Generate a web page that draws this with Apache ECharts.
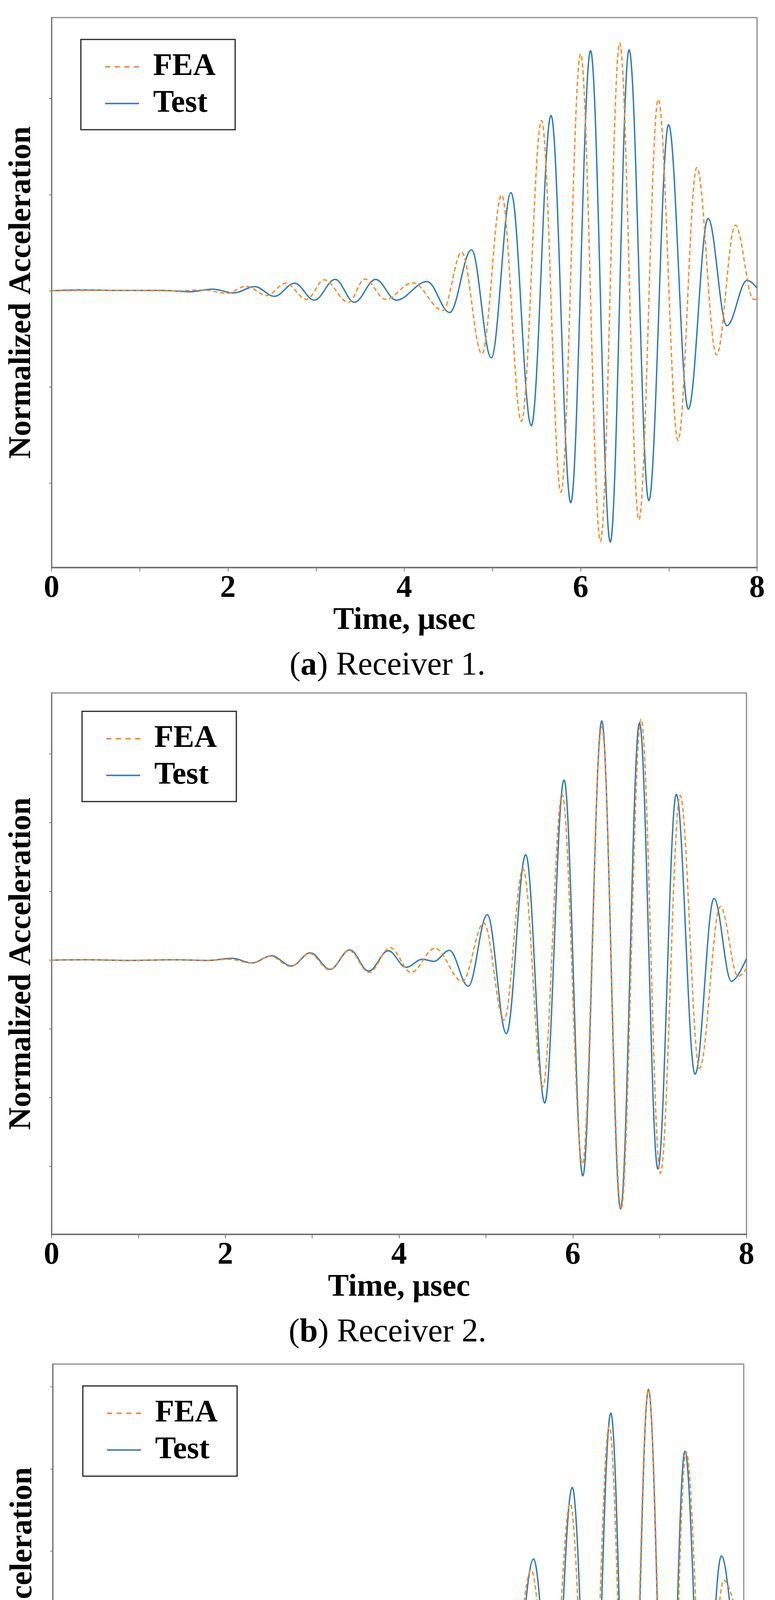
<!DOCTYPE html>
<html>
<head>
<meta charset="utf-8">
<script src="https://cdn.jsdelivr.net/npm/echarts@6/dist/echarts.min.js"></script>
<style>
html,body{margin:0;padding:0;background:#ffffff;}
#chart{width:1984px;height:5223px;}
</style>
</head>
<body>
<div id="chart"></div>
<script>
// ---------------- data (time in µsec, normalized acceleration in tick units) ----------------
const timeTicks = [0, 1, 2, 3, 4, 5, 6, 7, 8];
const timeLabels = ['0', '', '2', '', '4', '', '6', '', '8'];
const seriesNames = ['FEA', 'Test'];
const panelLetters = ['a', 'b', 'c'];
const panelCaptions = ['Receiver 1.', 'Receiver 2.', 'Receiver 3.'];
const xAxisTitle = 'Time, μsec';
const yAxisTitle = 'Normalized Acceleration';

const r1YTicks = [-2, -1, 0, 1, 2];
const r2YTicks = [-3, -2, -1, 0, 1, 2, 3];
const r3YTicks = [-3, -2, -1, 0, 1, 2, 3];

// Receiver 1
const r1Test = [[0,0],[0.31,0.009],[0.82,0.004],[1.27,0.004],[1.57,-0.009],[1.826,0.018],[2.067,-0.022],[2.303,0.044],[2.527,-0.057],[2.756,0.079],[2.980,-0.097],[3.216,0.119],[3.434,-0.119],[3.675,0.119],[3.910,-0.097],[4.258,0.097],[4.515,-0.225],[4.762,0.427],[4.986,-0.696],[5.210,1.022],[5.440,-1.401],[5.664,1.824],[5.888,-2.203],[6.112,2.498],[6.336,-2.612],[6.549,2.507],[6.773,-2.181],[6.997,1.727],[7.221,-1.229],[7.445,0.753],[7.658,-0.362],[7.888,0.110],[8.0,0.03]];
const r1FEA = [[0,0],[0.3,0.004],[0.9,0.004],[1.4,0.0],[1.714,0.009],[1.994,-0.026],[2.202,0.048],[2.443,-0.048],[2.655,0.079],[2.891,-0.088],[3.092,0.114],[3.367,-0.119],[3.552,0.123],[3.787,-0.088],[4.095,0.084],[4.437,-0.203],[4.650,0.401],[4.880,-0.656],[5.104,0.996],[5.328,-1.357],[5.557,1.771],[5.776,-2.093],[6.0,2.463],[6.224,-2.604],[6.443,2.577],[6.661,-2.379],[6.880,1.991],[7.104,-1.555],[7.317,1.282],[7.541,-0.665],[7.754,0.683],[7.961,-0.088],[8.0,-0.09]];

// Receiver 2
const r2Test = [[0,0],[0.4,0.005],[0.9,-0.005],[1.4,0.005],[1.8,-0.005],[2.081,0.025],[2.308,-0.043],[2.530,0.062],[2.763,-0.086],[2.979,0.105],[3.206,-0.135],[3.434,0.148],[3.650,-0.160],[3.877,0.135],[4.082,-0.105],[4.269,0.012],[4.400,-0.018],[4.580,0.14],[4.797,-0.380],[5.016,0.660],[5.236,-1.07],[5.459,1.533],[5.677,-2.08],[5.900,2.62],[6.116,-3.14],[6.334,3.48],[6.550,-3.62],[6.768,3.45],[6.980,-3.04],[7.192,2.41],[7.408,-1.66],[7.626,0.897],[7.826,-0.309],[8.0,0.02]];
const r2FEA = [[0,0],[0.4,0.005],[0.9,-0.005],[1.4,0.005],[1.8,-0.005],[2.052,0.012],[2.297,-0.043],[2.518,0.055],[2.752,-0.092],[2.968,0.099],[3.201,-0.142],[3.422,0.142],[3.656,-0.179],[3.900,0.179],[4.139,-0.179],[4.412,0.172],[4.730,-0.31],[4.976,0.54],[5.209,-0.873],[5.428,1.325],[5.655,-1.842],[5.878,2.41],[6.111,-2.965],[6.334,3.39],[6.557,-3.62],[6.786,3.505],[7.009,-3.10],[7.236,2.395],[7.459,-1.575],[7.699,0.778],[7.904,-0.238],[8.0,-0.12]];

// Receiver 3
const r3Test = [[0,0],[0.4,0.005],[0.8,-0.005],[1.2,0.004],[1.425,-0.003],[1.609,0.01],[1.886,-0.006],[2.163,0.013],[2.415,-0.019],[2.661,0.040],[2.890,-0.048],[3.108,0.076],[3.340,-0.090],[3.566,0.119],[3.797,-0.125],[4.017,0.136],[4.245,-0.122],[4.475,0.084],[4.725,-0.011],[4.885,-0.122],[5.111,0.306],[5.346,-0.575],[5.566,0.904],[5.794,-1.331],[6.014,1.776],[6.239,-2.273],[6.461,2.681],[6.681,-2.978],[6.897,2.968],[7.113,-2.723],[7.319,2.217],[7.531,-1.642],[7.741,0.942],[7.947,-0.311],[8.0,-0.25]];
const r3FEA = [[0,0],[0.4,0.005],[0.8,-0.005],[1.2,0.004],[1.425,-0.003],[1.609,0.01],[1.886,-0.006],[2.163,0.013],[2.415,-0.019],[2.671,0.036],[2.878,-0.051],[3.098,0.071],[3.328,-0.090],[3.559,0.116],[3.790,-0.133],[4.009,0.144],[4.245,-0.146],[4.494,0.131],[4.783,-0.127],[5.081,0.26],[5.323,-0.464],[5.539,0.770],[5.768,-1.160],[5.990,1.577],[6.220,-2.073],[6.442,2.519],[6.671,-2.862],[6.897,2.968],[7.123,-2.769],[7.333,2.208],[7.554,-1.447],[7.770,0.649],[8.0,-0.175]];

// ---------------- layout & style ----------------
const FONT = '"Liberation Serif", "Times New Roman", Times, serif';
const ORANGE = '#ff8a1f';
const BLUE = '#2a7bbd';
const FRAME = '#8a8a8a';
const AXIS = '#757575';
const ICON_DASHED = 'path://M0,0h13v4h-13z M24.7,0h13v4h-13z M49.3,0h13v4h-13z M74,0h13v4h-13z';
const ICON_SOLID = 'path://M0,0h87v4h-87z';

const panels = [
  { grid: {left: 132, top: 45, width: 1806, height: 1408}, yRange: [-2.877, 2.841], yTicks: r1YTicks,
    fea: r1FEA, test: r1Test, legend: {left: 207, top: 101}, captionTop: 1658 },
  { grid: {left: 132, top: 1774, width: 1779, height: 1386}, yRange: [-3.99, 3.885], yTicks: r2YTicks,
    fea: r2FEA, test: r2Test, legend: {left: 210, top: 1821}, captionTop: 3365 },
  { grid: {left: 135, top: 3492, width: 1769, height: 1379}, yRange: [-3.276, 3.276], yTicks: r3YTicks,
    fea: r3FEA, test: r3Test, legend: {left: 212, top: 3548}, captionTop: 5114 }
];

const option = {
  animation: false,
  backgroundColor: '#ffffff',
  grid: panels.map(p => Object.assign({
    show: true, borderColor: FRAME, borderWidth: 3, backgroundColor: 'transparent', containLabel: false
  }, p.grid)),
  xAxis: panels.map((p, i) => ({
    gridIndex: i, type: 'value', min: timeTicks[0], max: timeTicks[timeTicks.length - 1], interval: 1,
    axisLine: {show: true, onZero: false, lineStyle: {color: AXIS, width: 4}},
    axisTick: {show: true, inside: false, length: 10, lineStyle: {color: AXIS, width: 2}},
    splitLine: {show: false},
    axisLabel: {
      show: true, margin: 14, showMinLabel: true, showMaxLabel: true,
      formatter: v => timeLabels[timeTicks.indexOf(Math.round(v))] || '',
      fontFamily: FONT, fontSize: 80, fontWeight: 'bold', color: '#000'
    },
    name: xAxisTitle, nameLocation: 'middle', nameGap: 96,
    nameTextStyle: {fontFamily: FONT, fontSize: 80, fontWeight: 'bold', color: '#000'}
  })),
  yAxis: panels.map((p, i) => ({
    gridIndex: i, type: 'value', min: p.yRange[0], max: p.yRange[1],
    axisLine: {show: true, onZero: false, lineStyle: {color: AXIS, width: 3}},
    axisTick: {show: true, inside: false, length: 6, customValues: p.yTicks, lineStyle: {color: AXIS, width: 2}},
    axisLabel: {show: false, customValues: p.yTicks},
    splitLine: {show: false},
    name: yAxisTitle, nameLocation: 'middle', nameGap: 36, nameRotate: 90,
    nameTextStyle: {fontFamily: FONT, fontSize: 80, fontWeight: 'bold', color: '#000'}
  })),
  legend: panels.map(p => ({
    left: p.legend.left, top: p.legend.top, orient: 'vertical',
    data: [
      {name: seriesNames[0], icon: ICON_DASHED, itemStyle: {color: '#f58a3c', borderWidth: 0}},
      {name: seriesNames[1], icon: ICON_SOLID, itemStyle: {color: '#4a7ccb', borderWidth: 0}}
    ],
    selectedMode: false,
    backgroundColor: '#fff', borderColor: '#222', borderWidth: 3,
    padding: [30, 50, 27, 62], itemGap: 14, itemWidth: 87, itemHeight: 4,
    textStyle: {fontFamily: FONT, fontSize: 80, fontWeight: 'bold', color: '#000', lineHeight: 80, padding: [0, 0, 0, 31]}
  })),
  title: panels.map((p, i) => ({
    left: 'center', top: p.captionTop,
    text: '{n|(}{b|' + panelLetters[i] + '}{n|) ' + panelCaptions[i] + '}',
    textStyle: {
      rich: {
        n: {fontFamily: FONT, fontSize: 84, fontWeight: 'normal', color: '#000'},
        b: {fontFamily: FONT, fontSize: 84, fontWeight: 'bold', color: '#000'}
      }
    }
  })),
  series: []
};

panels.forEach((p, i) => {
  option.series.push({
    name: seriesNames[1], type: 'line', xAxisIndex: i, yAxisIndex: i, data: p.test,
    symbol: 'none', showSymbol: false, smooth: 0.36, smoothMonotone: 'x', z: 2,
    itemStyle: {color: BLUE},
    lineStyle: {color: BLUE, width: 3.5, type: 'solid'}
  });
  option.series.push({
    name: seriesNames[0], type: 'line', xAxisIndex: i, yAxisIndex: i, data: p.fea,
    symbol: 'none', showSymbol: false, smooth: 0.36, smoothMonotone: 'x', z: 3,
    itemStyle: {color: ORANGE},
    lineStyle: {color: ORANGE, width: 3.5, type: [11, 7]}
  });
});

const chart = echarts.init(document.getElementById('chart'), null, {renderer: 'canvas'});
chart.setOption(option);
</script>
</body>
</html>
